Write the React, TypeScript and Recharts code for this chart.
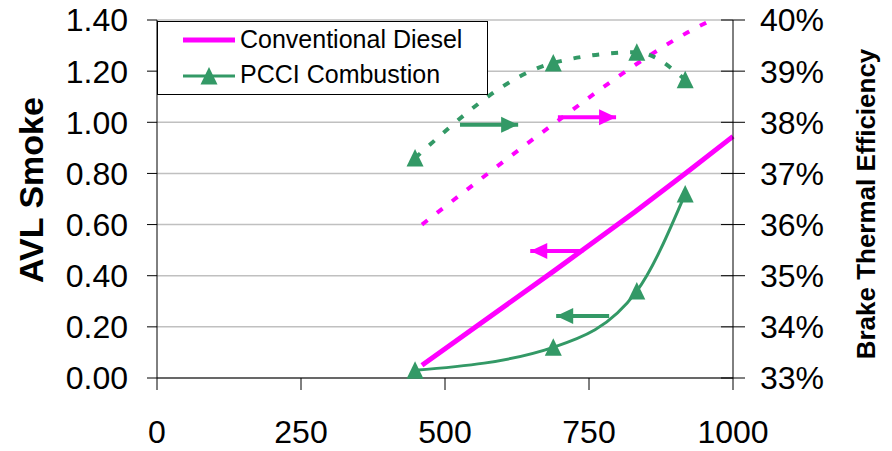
import React from "react";
import { LineChart, Line, XAxis, YAxis, CartesianGrid, ReferenceLine, ReferenceDot, Label } from "recharts";

const seriesNames = ["Conventional Diesel", "PCCI Combustion"];

// load, AVL smoke (left axis) and brake thermal efficiency in % (right axis)
const dieselLoad = [460, 690, 830, 920, 1000];
const dieselSmoke = [0.05, 0.42, 0.65, 0.805, 0.945];
const dieselBte = [36.0, 37.98, 39.12, 39.75, 40.2];

const pcciLoad = [448, 688, 833, 917];
const pcciSmoke = [0.03, 0.12, 0.34, 0.72];
const pcciBte = [37.3, 39.16, 39.37, 38.83];

const xTicks = [0, 250, 500, 750, 1000];
const smokeTicks = [0, 0.2, 0.4, 0.6, 0.8, 1.0, 1.2, 1.4];
const bteTicks = [33, 34, 35, 36, 37, 38, 39, 40];

// annotation arrows, in load / smoke units
const arrowTail = [526, 696, 740, 785];
const arrowTip = [627, 797, 648, 693];
const arrowLevel = [0.99, 1.02, 0.497, 0.242];

const MAGENTA = "#FF00FF";
const GREEN = "#339966";
const FONT = "'Liberation Sans', Arial, sans-serif";
const arrowColor = [GREEN, MAGENTA, MAGENTA, GREEN];

const rows = (xs: number[], ys: number[]) => xs.map((x, i) => ({ load: x, v: ys[i] }));

const Triangle = (props: any) => {
  const { cx, cy, index } = props;
  if (cx == null || cy == null) return <g key={index} />;
  return (
    <polygon
      key={index}
      points={`${cx},${cy - 9} ${cx - 8.5},${cy + 8.5} ${cx + 8.5},${cy + 8.5}`}
      fill={GREEN}
    />
  );
};

const RightTick = (props: any) => {
  const { x, y, payload } = props;
  const axisX = x - 27;
  return (
    <g>
      <line x1={axisX - 12} x2={axisX + 12} y1={y} y2={y} stroke="#000" strokeWidth={1} />
      <text x={x} y={y} dy="0.355em" textAnchor="start" fontSize={32} fontFamily={FONT} fill="#000">
        {payload.value}%
      </text>
    </g>
  );
};

export default function App() {
  return (
    <div style={{ position: "absolute", left: 0, top: 0, width: 892, height: 451, background: "#fff" }}>
      <LineChart width={892} height={451} margin={{ top: 20, right: 0, bottom: 0, left: 0 }}>
        <CartesianGrid horizontal vertical={false} stroke="#c0c0c0" strokeWidth={1.5} />
        <XAxis
          dataKey="load"
          type="number"
          domain={[0, 1000]}
          ticks={xTicks}
          height={73}
          stroke="#000"
          tickSize={12}
          tickMargin={30}
          tick={{ fontSize: 32, fill: "#000", fontFamily: FONT }}
        />
        <YAxis
          yAxisId={0}
          domain={[0, 1.4]}
          ticks={smokeTicks}
          width={157}
          stroke="#000"
          tickSize={10}
          tickMargin={19}
          tickFormatter={(v: number) => v.toFixed(2)}
          tick={{ fontSize: 32, fill: "#000", fontFamily: FONT }}
        >
          <Label
            content={(p: any) => {
              const vb = p.viewBox;
              const cx = vb.x + 43;
              const cy = vb.y + vb.height / 2 - 9;
              return (
                <text x={cx} y={cy} transform={`rotate(-90, ${cx}, ${cy})`} textAnchor="middle"
                  fontSize={34} fontWeight="bold" fontFamily={FONT} fill="#000">
                  AVL Smoke
                </text>
              );
            }}
          />
        </YAxis>
        <YAxis
          yAxisId="bte"
          orientation="right"
          domain={[33, 40]}
          allowDataOverflow
          ticks={bteTicks}
          width={159}
          stroke="#000"
          tickSize={12}
          tickMargin={15}
          tickLine={false}
          tick={<RightTick />}
        >
          <Label
            content={(p: any) => {
              const vb = p.viewBox;
              const cx = vb.x + 142;
              const cy = vb.y + vb.height / 2 + 5;
              return (
                <text x={cx} y={cy} transform={`rotate(-90, ${cx}, ${cy})`} textAnchor="middle"
                  fontSize={26} fontWeight="bold" fontFamily={FONT} fill="#000">
                  Brake Thermal Efficiency
                </text>
              );
            }}
          />
        </YAxis>

        <Line data={rows(dieselLoad, dieselBte)} dataKey="v" yAxisId="bte" type="monotone"
          stroke={MAGENTA} strokeWidth={4} strokeDasharray="7 12" dot={false} isAnimationActive={false} />
        <Line data={rows(pcciLoad, pcciBte)} dataKey="v" yAxisId="bte" type="monotone"
          stroke={GREEN} strokeWidth={4} strokeDasharray="7 12" dot={Triangle} isAnimationActive={false} />
        <Line data={rows(dieselLoad, dieselSmoke)} dataKey="v" yAxisId={0} type="linear" name={seriesNames[0]}
          stroke={MAGENTA} strokeWidth={5} dot={false} isAnimationActive={false} />
        <Line data={rows(pcciLoad, pcciSmoke)} dataKey="v" yAxisId={0} type="monotone" name={seriesNames[1]}
          stroke={GREEN} strokeWidth={3} dot={Triangle} isAnimationActive={false} />

        {arrowTail.map((t, i) => (
          <ReferenceLine
            key={"l" + i}
            yAxisId={0}
            segment={[{ x: t, y: arrowLevel[i] }, { x: arrowTip[i], y: arrowLevel[i] }]}
            stroke={arrowColor[i]}
            strokeWidth={4}
          />
        ))}
        {arrowTip.map((t, i) => (
          <ReferenceDot
            key={"h" + i}
            yAxisId={0}
            x={t}
            y={arrowLevel[i]}
            shape={(p: any) => {
              const dir = t > arrowTail[i] ? 1 : -1;
              const { cx, cy } = p;
              return (
                <polygon
                  points={`${cx},${cy} ${cx - dir * 17},${cy - 8} ${cx - dir * 17},${cy + 8}`}
                  fill={arrowColor[i]}
                />
              );
            }}
          />
        ))}
      </LineChart>

      <svg width={332} height={75} style={{ position: "absolute", left: 157, top: 21 }}>
        <rect x={0.5} y={0.5} width={330} height={73} fill="#fff" stroke="#000" strokeWidth={1} />
        <line x1={26} x2={78} y1={19} y2={19} stroke={MAGENTA} strokeWidth={5} />
        <text x={83} y={27} fontSize={25} fontFamily={FONT} fill="#000">{seriesNames[0]}</text>
        <line x1={26} x2={78} y1={55} y2={55} stroke={GREEN} strokeWidth={3} />
        <polygon points={`52,46 43.5,63.5 60.5,63.5`} fill={GREEN} />
        <text x={83} y={62} fontSize={25} fontFamily={FONT} fill="#000">{seriesNames[1]}</text>
      </svg>
    </div>
  );
}
